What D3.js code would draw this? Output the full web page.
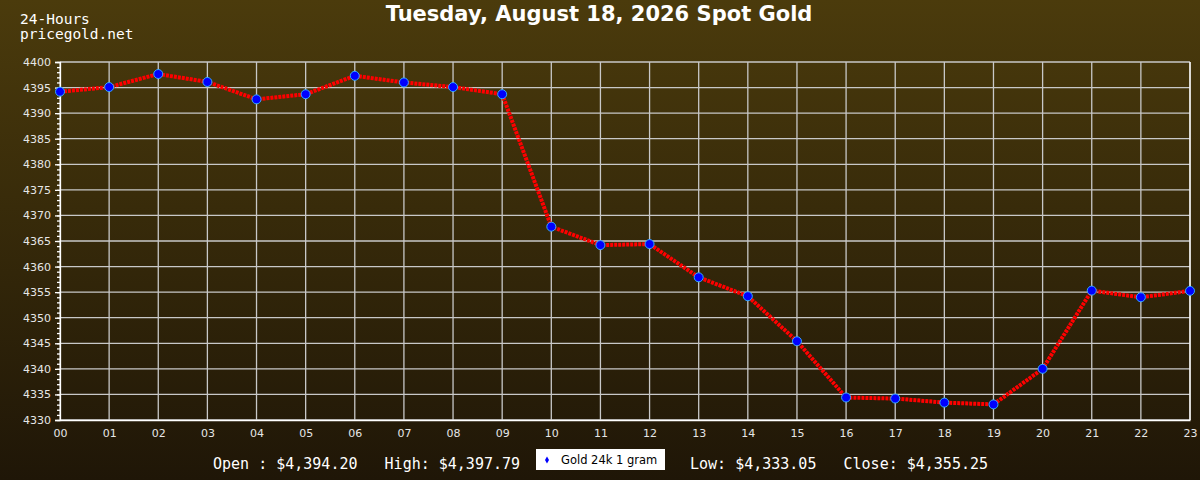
<!DOCTYPE html>
<html>
<head>
<meta charset="utf-8">
<script src="https://cdn.jsdelivr.net/npm/d3@7"></script>
<style>
  html, body { margin: 0; padding: 0; background: #1e1607; }
  svg { display: block; }
</style>
</head>
<body>
<svg id="chart"></svg>
<script>
// hourly spot gold, USD / oz
const hours = ["00", "01", "02", "03", "04", "05", "06", "07", "08", "09", "10", "11",
               "12", "13", "14", "15", "16", "17", "18", "19", "20", "21", "22", "23"];
const prices = [4394.20, 4395.1, 4397.65, 4396.1, 4392.7, 4393.7, 4397.3, 4396.0, 4395.1, 4393.7,
                4367.8, 4364.2, 4364.4, 4357.9, 4354.2, 4345.4, 4334.4, 4334.2, 4333.4, 4333.05,
                4340.0, 4355.3, 4354.0, 4355.25];
const yTicks = d3.range(4330, 4401, 5);
const summary = ["Open : $4,394.20", "High: $4,397.79", "Low: $4,333.05", "Close: $4,355.25"];
const seriesName = "Gold 24k 1 gram";
const title = "Tuesday, August 18, 2026 Spot Gold";

const width = 1200, height = 480;
const margin = { top: 62, right: 10, bottom: 60, left: 60 };

const svg = d3.select("#chart").attr("width", width).attr("height", height);

const defs = svg.append("defs");
const grad = defs.append("linearGradient")
    .attr("id", "bg").attr("x1", 0).attr("y1", 0).attr("x2", 0).attr("y2", 1);
grad.append("stop").attr("offset", "0%").attr("stop-color", "#4b3b0c");
grad.append("stop").attr("offset", "100%").attr("stop-color", "#1f1607");

svg.append("rect").attr("width", width).attr("height", height).attr("fill", "url(#bg)");

const x = d3.scalePoint().domain(hours).range([margin.left, width - margin.right]);
const y = d3.scaleLinear().domain([4330, 4400]).range([height - margin.bottom, margin.top]);

// grid
const grid = svg.append("g").attr("stroke", "#c8c8c8").attr("stroke-width", 1.3);
grid.selectAll(".gy").data(yTicks).enter().append("line")
    .attr("x1", margin.left).attr("x2", width - margin.right)
    .attr("y1", d => y(d)).attr("y2", d => y(d));
grid.selectAll(".gx").data(hours).enter().append("line")
    .attr("x1", d => x(d)).attr("x2", d => x(d))
    .attr("y1", margin.top).attr("y2", height - margin.bottom);

// axes
const yAxis = svg.append("g")
    .attr("transform", `translate(${margin.left},0)`)
    .call(d3.axisLeft(y).tickValues(yTicks).tickSize(5).tickPadding(4).tickFormat(d3.format("d")));
const yMinor = svg.append("g")
    .attr("transform", `translate(${margin.left},0)`)
    .call(d3.axisLeft(y).tickValues(d3.range(4330, 4401, 1)).tickSize(3).tickFormat(""));
yMinor.select(".domain").remove();

const xAxis = svg.append("g")
    .attr("transform", `translate(0,${height - margin.bottom})`)
    .call(d3.axisBottom(x).tickSize(0).tickPadding(9));

svg.append("line")
    .attr("x1", width - margin.right).attr("x2", width - margin.right)
    .attr("y1", margin.top).attr("y2", height - margin.bottom)
    .attr("stroke", "#ffffff").attr("stroke-width", 1.3);

[yAxis, yMinor, xAxis].forEach(g => {
    g.selectAll(".domain, line").attr("stroke", "#ffffff").attr("stroke-width", 1.3);
    g.selectAll("text")
        .attr("fill", "#e6e6e6")
        .style("font-family", "'DejaVu Sans', sans-serif")
        .style("font-size", "11px");
});

// price line
const line = d3.line().x((d, i) => x(hours[i])).y(d => y(d));
svg.append("path")
    .datum(prices)
    .attr("fill", "none")
    .attr("stroke", "#ff0000")
    .attr("stroke-width", 4)
    .attr("stroke-dasharray", "3 1")
    .attr("d", line);

svg.selectAll(".pt").data(prices).enter().append("circle")
    .attr("cx", (d, i) => x(hours[i]))
    .attr("cy", d => y(d))
    .attr("r", 4.5)
    .attr("fill", "#0000ff")
    .attr("stroke", "#33aaff")
    .attr("stroke-width", 1);

// titles
svg.append("text")
    .attr("x", 599).attr("y", 21)
    .attr("text-anchor", "middle")
    .attr("fill", "#ffffff")
    .style("font-family", "'DejaVu Sans', sans-serif")
    .style("font-weight", "bold")
    .style("font-size", "21px")
    .text(title);

const mono = "'DejaVu Sans Mono', monospace";
svg.append("text").attr("x", 20).attr("y", 24).attr("fill", "#ffffff")
    .style("font-family", mono).style("font-size", "14.5px").text("24-Hours");
svg.append("text").attr("x", 20).attr("y", 39).attr("fill", "#ffffff")
    .style("font-family", mono).style("font-size", "14.5px").text("pricegold.net");

// summary row
svg.append("text").attr("x", 213).attr("y", 469).attr("fill", "#ffffff")
    .style("white-space", "pre")
    .style("font-family", mono).style("font-size", "15px")
    .text(summary[0] + "   " + summary[1]);
svg.append("text").attr("x", 690).attr("y", 469).attr("fill", "#ffffff")
    .style("white-space", "pre")
    .style("font-family", mono).style("font-size", "15px")
    .text(summary[2] + "   " + summary[3]);

// legend
const legend = svg.append("g").attr("transform", "translate(536,449)");
legend.append("rect").attr("width", 129).attr("height", 21).attr("fill", "#ffffff");
legend.append("path")
    .attr("d", d3.symbol(d3.symbolDiamond, 14)())
    .attr("transform", "translate(11,11)")
    .attr("fill", "#0000ff");
legend.append("text").attr("x", 25).attr("y", 15)
    .attr("fill", "#000000")
    .style("font-family", "'DejaVu Sans', sans-serif")
    .style("font-size", "11.5px")
    .text(seriesName);
</script>
</body>
</html>
